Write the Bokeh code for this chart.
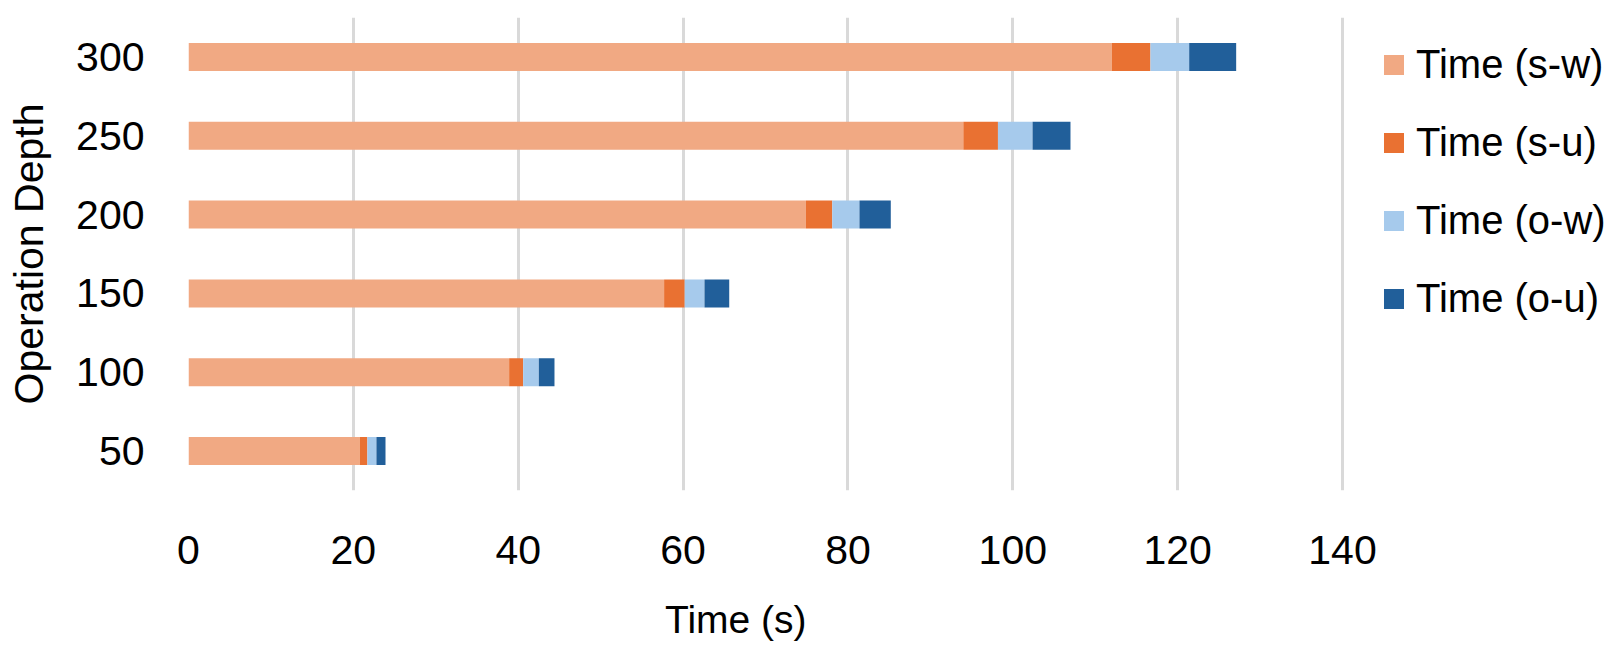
from bokeh.plotting import figure
from bokeh.models import (ColumnDataSource, FactorRange, Range1d, FixedTicker, Legend,
                          LinearAxis, CustomJSTickFormatter)
from bokeh.embed import file_html
from bokeh.resources import INLINE

depths = ["50", "100", "150", "200", "250", "300"]
time_sw = [20.8, 38.9, 57.7, 74.9, 94.0, 112.0]
time_su = [0.9, 1.7, 2.5, 3.2, 4.2, 4.7]
time_ow = [1.1, 1.9, 2.4, 3.3, 4.2, 4.7]
time_ou = [1.1, 1.9, 3.0, 3.8, 4.6, 5.7]
series_names = ["Time (s-w)", "Time (s-u)", "Time (o-w)", "Time (o-u)"]
colors = ["#F1A983", "#E97132", "#A6CAEC", "#215F9A"]
x_ticks = [0, 20, 40, 60, 80, 100, 120, 140]
x_title = "Time (s)"
y_title = "Operation Depth"

FONT = "Liberation Sans"

# layout: frame spans beyond the last tick so the legend can sit inside it
FRAME_LEFT, FRAME_W = 188, 1422
X_END = 140 * FRAME_W / 1154.0
X_TITLE_POS = 66.4   # where the x-axis title is centred, in axis units

source = ColumnDataSource(dict(depth=depths, sw=time_sw, su=time_su, ow=time_ow, ou=time_ou))

p = figure(width=FRAME_LEFT + FRAME_W, height=651, output_backend="svg", toolbar_location=None,
           y_range=FactorRange(factors=depths, range_padding=0),
           x_range=Range1d(0, X_END),
           min_border_left=FRAME_LEFT, min_border_right=0, min_border_top=17, min_border_bottom=161)

renderers = p.hbar_stack(["sw", "su", "ow", "ou"], y="depth", height=0.355,
                         color=colors, source=source, line_width=0)

p.outline_line_color = None
p.background_fill_color = "white"
p.border_fill_color = "white"

p.xaxis.ticker = FixedTicker(ticks=x_ticks)
p.xgrid.ticker = FixedTicker(ticks=x_ticks)
p.xgrid.grid_line_color = "#D9D9D9"
p.xgrid.grid_line_width = 3
p.ygrid.grid_line_color = None

title_axis = LinearAxis(ticker=FixedTicker(ticks=[X_TITLE_POS]),
                        formatter=CustomJSTickFormatter(code="return %r" % x_title))
p.add_layout(title_axis, "below")

for ax in (p.xaxis[0], p.yaxis[0], title_axis):
    ax.axis_line_color = None
    ax.major_tick_line_color = None
    ax.minor_tick_line_color = None
    ax.major_tick_out = 0
    ax.major_tick_in = 0
    ax.minor_tick_out = 0
    ax.major_label_text_font = FONT
    ax.major_label_text_font_size = "41px"
    ax.major_label_text_color = "black"

title_axis.major_label_text_font_size = "39px"
p.xaxis[0].major_label_standoff = 45
title_axis.major_label_standoff = 31
p.yaxis.major_label_standoff = 44
p.yaxis.axis_label = y_title
p.yaxis.axis_label_text_font = FONT
p.yaxis.axis_label_text_font_size = "41px"
p.yaxis.axis_label_text_font_style = "normal"
p.yaxis.axis_label_text_color = "black"
p.yaxis.axis_label_standoff = 21

legend = Legend(items=[(n, [r]) for n, r in zip(series_names, renderers)],
                location=(1193, 169), margin=0, padding=0,
                glyph_width=25, glyph_height=25, label_standoff=10, spacing=33,
                label_text_font=FONT, label_text_font_size="40px", label_text_color="black",
                border_line_color=None, background_fill_alpha=0)
p.add_layout(legend, "center")

open("out.html", "w").write(file_html(p, INLINE))
